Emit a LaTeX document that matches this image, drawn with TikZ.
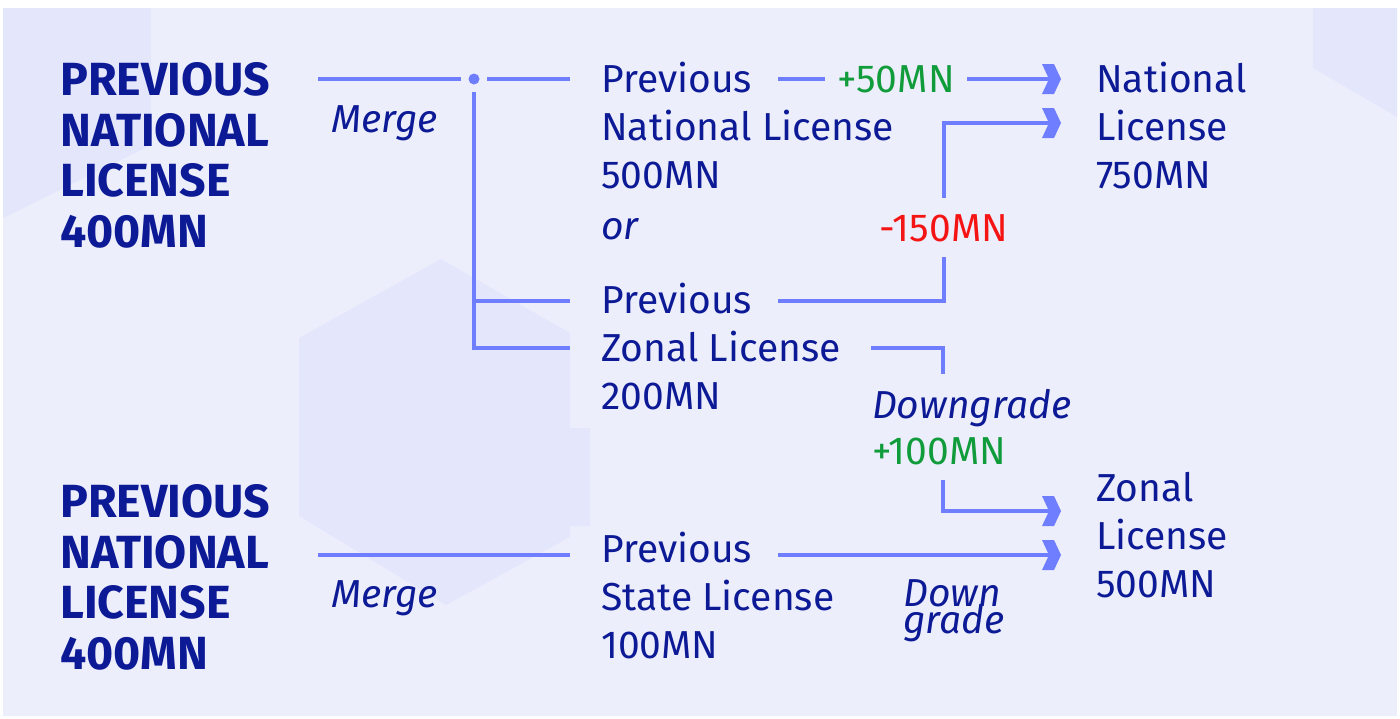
\documentclass[tikz,border=0pt]{standalone}
\usepackage{fontspec}
\setmainfont{Fira Sans}
\usetikzlibrary{arrows.meta}

\definecolor{bg}{HTML}{EDEEFC}
\definecolor{hexc}{HTML}{E4E6FC}
\definecolor{wire}{HTML}{6F7DFF}
\definecolor{ink}{HTML}{0D1A96}
\definecolor{gain}{HTML}{119C3C}
\definecolor{loss}{HTML}{F41414}

\newcommand\tightlines{\lineskiplimit=-100pt\relax\lineskip=0pt\relax}

% thick chevron tip used on every arrow
\pgfdeclarearrow{
  name = Chev,
  setup code = {
    \pgfarrowssettipend{0pt}
    \pgfarrowssetlineend{-12pt}
    \pgfarrowssetvisualbackend{-19pt}
    \pgfarrowssetbackend{-19pt}
    \pgfarrowshullpoint{0pt}{0pt}
    \pgfarrowsupperhullpoint{-19pt}{15pt}
  },
  drawing code = {
    \pgfpathmoveto{\pgfqpoint{0pt}{0pt}}
    \pgfpathlineto{\pgfqpoint{-7pt}{15pt}}
    \pgfpathlineto{\pgfqpoint{-19pt}{15pt}}
    \pgfpathlineto{\pgfqpoint{-12pt}{0pt}}
    \pgfpathlineto{\pgfqpoint{-19pt}{-15pt}}
    \pgfpathlineto{\pgfqpoint{-7pt}{-15pt}}
    \pgfpathclose
    \pgfusepathqfill
  }
}

% multi-line nodes are placed by the baseline of their last line
\tikzset{
  ttl/.style={anchor=base west, inner sep=0pt, align=left, text=ink,
    font=\fontsize{46.5}{50.5}\selectfont\bfseries},
  txt/.style={anchor=base west, inner sep=0pt, align=left, text=ink,
    font=\fontsize{39}{48}\selectfont},
  note/.style={anchor=base west, inner sep=0pt, align=left, text=ink,
    font=\fontsize{39}{48}\selectfont\itshape},
  conn/.style={draw=wire, line width=4pt},
  arr/.style={conn, -{Chev}},
  onwire/.style={fill=bg, inner xsep=12pt, inner ysep=16pt, text height=27pt,
    text depth=0pt, font=\fontsize{39}{48}\selectfont},
  onwirebox/.style={fill=bg, inner xsep=12pt, inner ysep=15pt, align=left,
    text=ink, font=\fontsize{39}{46}\selectfont},
  hub/.style={circle, fill=wire, minimum size=11pt, inner sep=0pt, outer sep=7.5pt},
}

\begin{document}
\begin{tikzpicture}[x=1pt, y=-1pt]
  \useasboundingbox (0,0) rectangle (1400,718);
  \fill[white] (0,0) rectangle (1400,718);
  \fill[bg] (3,8) rectangle (1397,716);

  % faint hexagon decorations
  \fill[hexc] (3,8) -- (151,8) -- (151,145) -- (3,218) -- cycle;
  \fill[hexc] (1313,8) -- (1397,8) -- (1397,117) -- (1313,68) -- cycle;
  \fill[hexc] (441,259) -- (570,333) -- (570,428) -- (590,428) -- (590,526)
    -- (570,526) -- (570,537) -- (446,605) -- (299,516) -- (299,338) -- cycle;

  % texts
  \node[ttl] (t1) at (60,247) {PREVIOUS\\NATIONAL\\LICENSE\\400MN};
  \node[ttl] (t2) at (60,669) {PREVIOUS\\NATIONAL\\LICENSE\\400MN};
  \node[note] (m1) at (331,132) {Merge};
  \node[note] (m2) at (331,607) {Merge};
  \node[txt] (pn) at (601,188) {Previous\\National License\\500MN};
  \node[note] (or) at (601,239) {or};
  \node[txt] (pz) at (601,409) {Previous\\Zonal License\\200MN};
  \node[txt] (ps) at (601,658) {Previous\\State License\\100MN};
  \node[txt] (nat) at (1096,188) {National\\License\\750MN};
  \node[txt] (zon) at (1096,597) {Zonal\\License\\500MN};
  \node[note, font={\fontsize{39}{27}\selectfont\itshape\tightlines}]
    (dg) at (903,633) {Down\\grade};

  % connector ends
  \coordinate (a1) at (318,79);
  \node[hub] (hub) at (474,79) {};
  \coordinate (b1) at (570,79);
  \coordinate (b2) at (570,301);
  \coordinate (b3) at (570,348);
  \coordinate (c1) at (778,79);
  \coordinate (n1) at (1061,79);
  \coordinate (c2) at (778,301);
  \coordinate (k2) at (944,123);
  \coordinate (n2) at (1061,123);
  \coordinate (c3) at (871,348);
  \coordinate (k3) at (943,511);
  \coordinate (n3) at (1061,511);
  \coordinate (a2) at (318,555);
  \coordinate (b4) at (570,555);
  \coordinate (c4) at (778,555);
  \coordinate (n4) at (1061,555);

  % merge wiring
  \draw[conn] (a1) -- (hub);
  \draw[conn] (hub) -- (b1);
  \draw[conn] (hub) |- (b3);
  \draw[conn] (hub |- b2) -- (b2);
  \draw[conn] (a2) -- (b4);

  % arrows into the new licenses
  \draw[arr] (c1) -- node[onwire, pos=0.417, text=gain] {+50MN} (n1);
  \draw[arr] (c2) -| node[onwire, pos=0.706, text=loss] {-150MN} (k2) -- (n2);
  \draw[arr] (c3) -| node[onwirebox, pos=0.742, anchor=west, xshift=-85pt]
    {\textit{Downgrade}\\\textcolor{gain}{+100MN}} (k3) -- (n3);
  \draw[arr] (c4) -- (n4);
\end{tikzpicture}
\end{document}
